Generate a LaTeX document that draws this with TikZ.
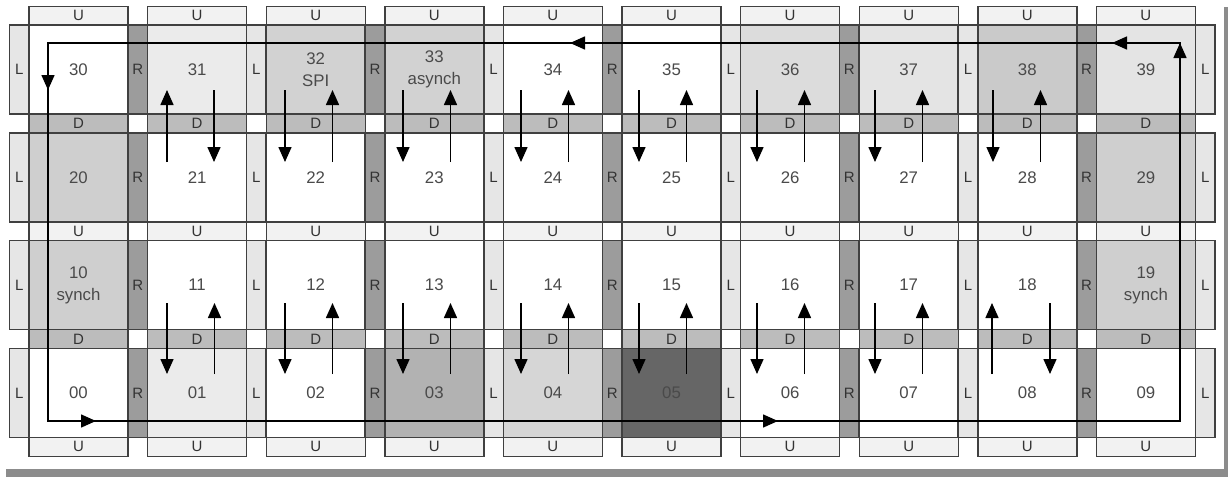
\documentclass[tikz,border=0pt]{standalone}
\usepackage{fontspec}
\setmainfont{Liberation Sans}
\usetikzlibrary{arrows.meta}
\definecolor{edgecol}{HTML}{404040}
\definecolor{stripL}{HTML}{E6E6E6}
\definecolor{stripR}{HTML}{9C9C9C}
\definecolor{stripU}{HTML}{F2F2F2}
\definecolor{stripD}{HTML}{BCBCBC}
\definecolor{numcol}{HTML}{4A4A4A}
\definecolor{lblcol}{HTML}{333333}
\definecolor{shadowcol}{HTML}{8C8C8C}
\definecolor{fA}{HTML}{EBEBEB}
\definecolor{fB}{HTML}{D2D2D2}
\definecolor{fC}{HTML}{DCDCDC}
\definecolor{fD}{HTML}{E4E4E4}
\definecolor{fE}{HTML}{CACACA}
\definecolor{fF}{HTML}{CFCFCF}
\definecolor{fG}{HTML}{B2B2B2}
\definecolor{fH}{HTML}{D6D6D6}
\definecolor{fI}{HTML}{666666}
\newcommand\mystrip[6]{%
  \fill[strip#5] (#1,#2) rectangle (#3,#4);
  \draw[edgecol,line width=0.7pt] (#1,#2) rectangle (#3,#4);
  \node[lbl] (#6) at ({(#1+#3)/2},{(#2+#4)/2}) {#5};
}
\begin{document}
\begin{tikzpicture}[x=0.5pt,y=-0.5pt,
  lbl/.style={font=\fontsize{7.5}{8}\selectfont, text=lblcol, inner sep=0pt},
  num/.style={font=\fontsize{8.4}{11}\selectfont, text=numcol, inner sep=0pt, align=center},
  tilebox/.style={draw=edgecol, line width=0.75pt},
  arr/.style={line width=0.75pt, -{Triangle[length=7.5pt,width=6.5pt]}},
  loopline/.style={line width=0.75pt}]
\useasboundingbox (0,0) rectangle (1228,477);
% drop shadow of frame
\fill[shadowcol] (6,469) rectangle (1228,477);
\fill[shadowcol] (1224,7) rectangle (1228,477);
% strips
\foreach \c in {0,...,9}{
  \foreach \i in {0,...,3}{
    \pgfmathsetmacro\X{29+118.6*\c}
    \pgfmathsetmacro\Xr{\X+99}
    \pgfmathsetmacro\Xl{\X-19.6}
    \pgfmathsetmacro\Xrr{\X+118.6}
    \pgfmathsetmacro\Y{25+107.8*\i}
    \pgfmathsetmacro\Yb{\Y+89}
    \pgfmathsetmacro\Yt{\Y-18.8}
    \pgfmathsetmacro\Ybb{\Y+107.8}
    \ifodd\c\relax
      \mystrip{\Xl}{\Y}{\X}{\Yb}{R}{sl-\c-\i}
      \mystrip{\Xr}{\Y}{\Xrr}{\Yb}{L}{sr-\c-\i}
    \else
      \mystrip{\Xl}{\Y}{\X}{\Yb}{L}{sl-\c-\i}
      \mystrip{\Xr}{\Y}{\Xrr}{\Yb}{R}{sr-\c-\i}
    \fi
    \ifodd\i\relax
      \mystrip{\X}{\Yt}{\Xr}{\Y}{D}{st-\c-\i}
      \mystrip{\X}{\Yb}{\Xr}{\Ybb}{U}{sb-\c-\i}
    \else
      \mystrip{\X}{\Yt}{\Xr}{\Y}{U}{st-\c-\i}
      \mystrip{\X}{\Yb}{\Xr}{\Ybb}{D}{sb-\c-\i}
    \fi
  }
}
% tile boxes
\foreach \c/\i/\col/\txt in {
  0/0/white/30, 1/0/fA/31, 2/0/fB/{32\\SPI}, 3/0/fB/{33\\asynch}, 4/0/white/34,
  5/0/white/35, 6/0/fC/36, 7/0/fD/37, 8/0/fE/38, 9/0/fD/39,
  0/1/fF/20, 1/1/white/21, 2/1/white/22, 3/1/white/23, 4/1/white/24,
  5/1/white/25, 6/1/white/26, 7/1/white/27, 8/1/white/28, 9/1/fF/29,
  0/2/fF/{10\\synch}, 1/2/white/11, 2/2/white/12, 3/2/white/13, 4/2/white/14,
  5/2/white/15, 6/2/white/16, 7/2/white/17, 8/2/white/18, 9/2/fF/{19\\synch},
  0/3/white/00, 1/3/fA/01, 2/3/white/02, 3/3/fG/03, 4/3/fH/04,
  5/3/fI/05, 6/3/white/06, 7/3/white/07, 8/3/white/08, 9/3/white/09}{
  \pgfmathsetmacro\X{29+118.6*\c}
  \pgfmathsetmacro\Y{25+107.8*\i}
  \draw[tilebox, fill=\col] (\X,\Y) rectangle ++(99,89);
  \node[num] (t-\c-\i) at (\X+49.5,\Y+44.5) {\txt};
}
% big loop
\coordinate (ca) at (48,43);
\coordinate (cb) at (1180,43);
\coordinate (cc) at (1180,421);
\coordinate (cd) at (48,421);
\draw[loopline] (ca) -- (cb) -- (cc) -- (cd) -- cycle;
\coordinate (b1s) at (80,421);  \coordinate (b1e) at (96,421);
\coordinate (b2s) at (762,421); \coordinate (b2e) at (778,421);
\coordinate (r1s) at (1180,60); \coordinate (r1e) at (1180,43);
\coordinate (t1s) at (1128,43); \coordinate (t1e) at (1112,43);
\coordinate (t2s) at (586,43);  \coordinate (t2e) at (570,43);
\coordinate (l1s) at (48,74);   \coordinate (l1e) at (48,90);
\draw[arr] (b1s) -- (b1e);
\draw[arr] (b2s) -- (b2e);
\draw[arr] (r1s) -- (r1e);
\draw[arr] (t1s) -- (t1e);
\draw[arr] (t2s) -- (t2e);
\draw[arr] (l1s) -- (l1e);
% small arrows between rows 3 and 2
\coordinate (u1a) at (167,162); \coordinate (u1b) at (167,90);
\coordinate (d1a) at (214,90);  \coordinate (d1b) at (214,162);
\draw[arr] (u1a) -- (u1b);
\draw[arr] (d1a) -- (d1b);
\foreach \c in {2,...,8}{
  \pgfmathsetmacro\xl{167+118*(\c-1)}
  \pgfmathsetmacro\xr{\xl+47.5}
  \coordinate (dl-\c) at (\xl,90);
  \coordinate (dle-\c) at (\xl,162);
  \coordinate (ur-\c) at (\xr,162);
  \coordinate (ure-\c) at (\xr,90);
  \draw[arr] (dl-\c) -- (dle-\c);
  \draw[arr] (ur-\c) -- (ure-\c);
}
% small arrows between rows 1 and 0
\foreach \c in {1,...,7}{
  \pgfmathsetmacro\xl{167+118*(\c-1)}
  \pgfmathsetmacro\xr{\xl+47.5}
  \coordinate (bdl-\c) at (\xl,303);
  \coordinate (bdle-\c) at (\xl,374);
  \coordinate (bur-\c) at (\xr,374);
  \coordinate (bure-\c) at (\xr,303);
  \draw[arr] (bdl-\c) -- (bdle-\c);
  \draw[arr] (bur-\c) -- (bure-\c);
}
\coordinate (e8a) at (992,374); \coordinate (e8b) at (992,303);
\coordinate (f8a) at (1050,303); \coordinate (f8b) at (1050,374);
\draw[arr] (e8a) -- (e8b);
\draw[arr] (f8a) -- (f8b);
\end{tikzpicture}
\end{document}
